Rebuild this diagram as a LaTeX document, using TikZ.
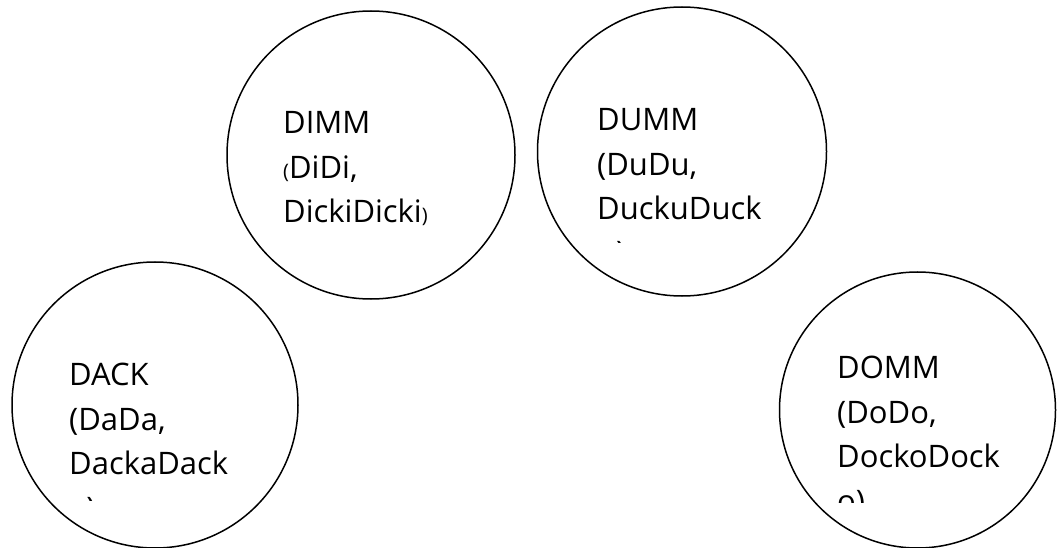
\documentclass[tikz,border=0pt]{standalone}
\usepackage{fontspec}
\setmainfont{Open Sans}
\begin{document}
\begin{tikzpicture}[x=1pt,y=-1pt,
  bubble/.style={circle,draw=black,line width=1.5pt,minimum size=#1,inner sep=0pt},
  label/.style={anchor=base west,inner sep=0pt,align=left,
    font=\fontsize{31}{44.5}\selectfont}]
\useasboundingbox[fill=white] (0,0) rectangle (1058,548);
\node[bubble=288pt] (dimm) at (371,155) {};
\node[bubble=289pt] (dumm) at (682,151.5) {};
\node[bubble=286pt] (dack) at (155,405) {};
\node[bubble=276pt] (domm) at (917.5,410) {};
% texts (the base anchor is the baseline of the last line)
\begin{scope}
\clip (270,90) rectangle (480,250);
\node[label] (tdimm) at (283,223) {DIMM\\{\fontsize{20}{20}\selectfont(}DiDi,\\DickiDicki{\fontsize{20}{20}\selectfont)}};
\end{scope}
\begin{scope}
\clip (585,90) rectangle (790,243);
\node[label] (tdumm) at (597,264) {DUMM\\(DuDu,\\DuckuDuck\\u)};
\end{scope}
\begin{scope}
\clip (60,340) rectangle (270,500);
\node[label] (tdack) at (69,519) {DACK\\(DaDa,\\DackaDack\\a)};
\end{scope}
\begin{scope}
\clip (825,340) rectangle (1045,502);
\node[label] (tdomm) at (837,512) {DOMM\\(DoDo,\\DockoDock\\o)};
\end{scope}
\end{tikzpicture}
\end{document}
